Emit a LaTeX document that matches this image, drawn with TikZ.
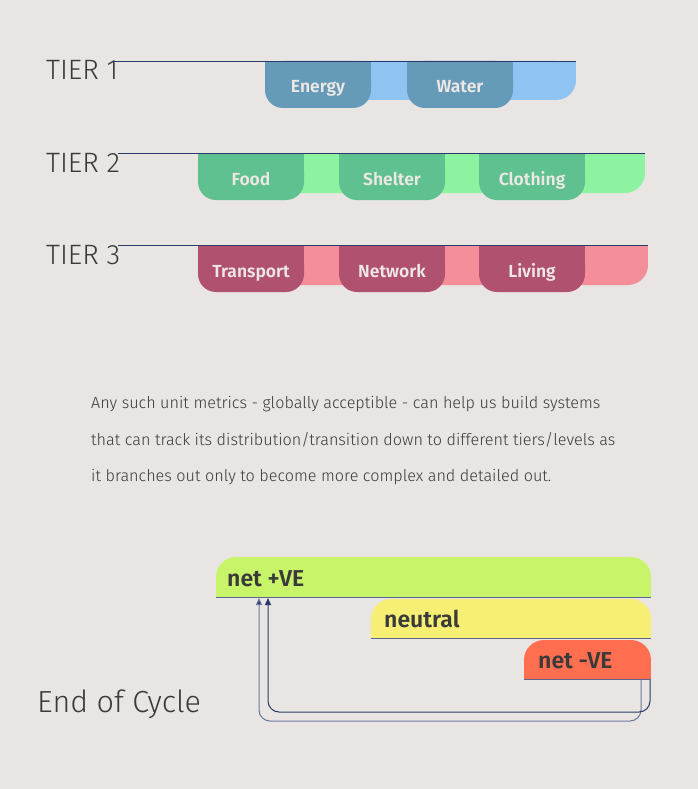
\documentclass[tikz,border=0pt]{standalone}
\usepackage{fontspec}
\setmainfont{Fira Sans}
\newfontfamily\thinfont{Fira Sans Light}
\newfontfamily\medfont{Fira Sans SemiBold}
\usetikzlibrary{arrows.meta}
\definecolor{bg}{HTML}{E8E5E2}
\definecolor{ink}{HTML}{3A3A3A}
\definecolor{navy}{HTML}{2B3A6B}
\definecolor{navylt}{HTML}{6C77A0}
\definecolor{bandline}{HTML}{5A6690}
\definecolor{bluelt}{HTML}{8EC3F2}
\definecolor{bluedk}{HTML}{659BB9}
\definecolor{greenlt}{HTML}{8EF3A0}
\definecolor{greendk}{HTML}{5FC190}
\definecolor{pinklt}{HTML}{F48E9A}
\definecolor{pinkdk}{HTML}{B05170}
\definecolor{lime}{HTML}{C8F46A}
\definecolor{yell}{HTML}{F7EF74}
\definecolor{coral}{HTML}{FF6F4F}
\definecolor{lbl}{HTML}{EEE8E4}
\begin{document}
\begin{tikzpicture}[x=1pt,y=-1pt,
  tierlbl/.style={anchor=base west,inner sep=0pt,text=ink,font=\thinfont\fontsize{28}{28}\selectfont},
  boxlbl/.style={anchor=base,inner sep=0pt,text=lbl,font=\medfont\fontsize{17.5}{17.5}\selectfont},
  bandlbl/.style={anchor=base west,inner sep=0pt,text=ink,font=\medfont\fontsize{23}{23}\selectfont},
  para/.style={anchor=west,inner sep=0pt,text=ink,font=\thinfont\fontsize{16.2}{16.2}\selectfont},
  rule/.style={draw=navy,line width=0.9pt},
  bandrule/.style={draw=bandline,line width=0.9pt},
  flow/.style={line width=1pt,rounded corners=11pt,-{Triangle[length=7pt,width=6pt]}}]
\fill[bg] (0,0) rectangle (698,789);
\useasboundingbox (0,0) rectangle (698,789);

% TIER 1
\node[tierlbl] (t1) at (46,80) {TIER 1};
\fill[bluelt,rounded corners=20pt] (300,61) rectangle (576,100);
\fill[bluelt] (300,61) rectangle (576,80);
\fill[bluelt] (300,61) rectangle (330,100);
\foreach \x/\n/\t in {265/energy/Energy,407/water/Water}{
  \fill[bluedk,rounded corners=18pt] (\x,61) rectangle (\x+106,108);
  \fill[bluedk] (\x,61) rectangle (\x+106,85);
  \node[boxlbl] (\n) at (\x+53,93) {\t};
}
\draw[rule] (112,61) -- (576,61);

% TIER 2
\node[tierlbl] (t2) at (46,172) {TIER 2};
\fill[greenlt,rounded corners=20pt] (240,153) rectangle (645,193);
\fill[greenlt] (240,153) rectangle (645,172);
\fill[greenlt] (240,153) rectangle (270,193);
\foreach \x/\n/\t in {198/food/Food,339/shelter/Shelter,479/clothing/Clothing}{
  \fill[greendk,rounded corners=18pt] (\x,153) rectangle (\x+106,200);
  \fill[greendk] (\x,153) rectangle (\x+106,177);
  \node[boxlbl] (\n) at (\x+53,185) {\t};
}
\draw[rule] (118,153) -- (645,153);

% TIER 3
\node[tierlbl] (t3) at (46,264) {TIER 3};
\fill[pinklt,rounded corners=20pt] (240,245) rectangle (648,285);
\fill[pinklt] (240,245) rectangle (648,264);
\fill[pinklt] (240,245) rectangle (270,285);
\foreach \x/\n/\t in {198/transport/Transport,339/network/Network,479/living/Living}{
  \fill[pinkdk,rounded corners=18pt] (\x,245) rectangle (\x+106,292);
  \fill[pinkdk] (\x,245) rectangle (\x+106,269);
  \node[boxlbl] (\n) at (\x+53,277) {\t};
}
\draw[rule] (118,245) -- (648,245);

% paragraph
\node[para] (p1) at (91,404) {Any such unit metrics - globally acceptible - can help us build systems};
\node[para] (p2) at (91,440) {that can track its distribution/transition down to different tiers/levels as};
\node[para] (p3) at (91,477) {it branches out only to become more complex and detailed out.};

% bands
\fill[lime,rounded corners=20pt] (216,557) rectangle (651,597);
\fill[lime] (216,580) rectangle (651,597);
\draw[bandrule] (216,597) -- (651,597);
\node[bandlbl] (pos) at (227,586) {net +VE};

\fill[yell,rounded corners=20pt] (371,599) rectangle (651,638);
\fill[yell] (371,620) rectangle (651,638);
\draw[bandrule] (371,638) -- (651,638);
\node[bandlbl] (neu) at (384,627) {neutral};

\fill[coral,rounded corners=20pt] (524,640) rectangle (651,679);
\fill[coral] (524,660) rectangle (651,679);
\draw[bandrule] (524,679) -- (651,679);
\node[bandlbl] (neg) at (538,668) {net -VE};

\coordinate (a1) at (641,680);
\coordinate (b1) at (259,598);
\coordinate (a2) at (650,680);
\coordinate (b2) at (268,598);
\draw[flow,draw=navylt,-{Triangle[length=7pt,width=6pt,fill=navy]}] (a1) -- (a1 |- 0,721) -- (b1 |- 0,721) -- (b1);
\draw[flow,draw=navy] (a2) -- (a2 |- 0,712) -- (b2 |- 0,712) -- (b2);

\node[tierlbl,font=\thinfont\fontsize{30.5}{30.5}\selectfont] (end) at (37,712) {End of Cycle};
\end{tikzpicture}
\end{document}
